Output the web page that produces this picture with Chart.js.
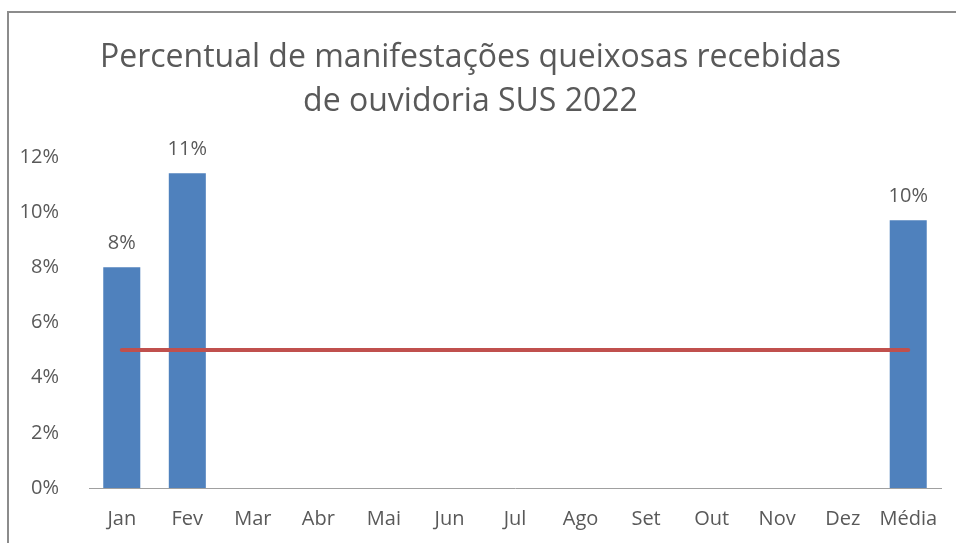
<!DOCTYPE html>
<html>
<head>
<meta charset="utf-8">
<script src="https://cdn.jsdelivr.net/npm/chart.js@4"></script>
<style>
  html, body { margin: 0; padding: 0; background: #fff; }
  #wrap { position: relative; width: 956px; height: 543px; }
  #frame {
    position: absolute; left: 7px; top: 11px; right: -10px; bottom: -10px;
    border-top: 2px solid #8c8c8c; border-left: 2px solid #8c8c8c;
    pointer-events: none;
  }
</style>
</head>
<body>
<div id="wrap">
  <canvas id="chart" width="956" height="543"></canvas>
  <div id="frame"></div>
</div>
<script>
// chart data
const months = ['Jan', 'Fev', 'Mar', 'Abr', 'Mai', 'Jun', 'Jul', 'Ago', 'Set', 'Out', 'Nov', 'Dez', 'Média'];
const complaintShare = [0.080, 0.1141, null, null, null, null, null, null, null, null, null, null, 0.0971];
const targetLine = [0.05, 0.05, 0.05, 0.05, 0.05, 0.05, 0.05, 0.05, 0.05, 0.05, 0.05, 0.05, 0.05];
const yTicks = [0, 0.02, 0.04, 0.06, 0.08, 0.10, 0.12];
const titleLines = ['Percentual de manifestações queixosas recebidas', 'de ouvidoria SUS 2022'];

const FONT = '"Open Sans", "Liberation Sans", sans-serif';
const TEXT = '#595959';

// labels on top of the bars
const barLabels = {
  id: 'barLabels',
  afterDatasetsDraw(chart) {
    const ctx = chart.ctx;
    const meta = chart.getDatasetMeta(0);
    ctx.save();
    ctx.font = '20px ' + FONT;
    ctx.fillStyle = TEXT;
    ctx.textAlign = 'center';
    ctx.textBaseline = 'middle';
    meta.data.forEach(function(bar, i) {
      const v = complaintShare[i];
      if (v == null) return;
      ctx.fillText(Math.round(v * 100) + '%', bar.x, bar.y - 24);
    });
    ctx.restore();
  }
};

const ctx = document.getElementById('chart').getContext('2d');
new Chart(ctx, {
  data: {
    labels: months,
    datasets: [{
      type: 'bar',
      data: complaintShare,
      backgroundColor: '#4F81BD',
      categoryPercentage: 1,
      barPercentage: 0.565,
      order: 2
    }, {
      type: 'line',
      data: targetLine,
      borderColor: '#C0504D',
      borderWidth: 4,
      borderCapStyle: 'round',
      pointRadius: 0,
      order: 1
    }]
  },
  options: {
    responsive: false,
    animation: false,
    layout: { padding: { left: 0, right: 15, top: 36, bottom: 1 } },
    plugins: {
      legend: { display: false },
      tooltip: { enabled: false },
      title: {
        display: true,
        text: titleLines,
        color: TEXT,
        font: { family: FONT, size: 32, weight: 'normal', lineHeight: 1.375 },
        padding: { top: 0, bottom: 33 }
      }
    },
    scales: {
      x: {
        grid: { display: false },
        border: { display: true, color: '#a0a0a0', width: 1 },
        ticks: { color: TEXT, font: { family: FONT, size: 20 }, padding: 11, maxRotation: 0 }
      },
      y: {
        min: 0,
        max: 0.12,
        afterBuildTicks(scale) { scale.ticks = yTicks.map(v => ({ value: v })); },
        afterFit(scale) { scale.width = 89; },
        grid: { display: false },
        border: { display: false },
        ticks: {
          color: TEXT,
          font: { family: FONT, size: 20 },
          padding: 22,
          callback: v => Math.round(v * 100) + '%'
        }
      }
    }
  },
  plugins: [barLabels]
});
</script>
</body>
</html>
